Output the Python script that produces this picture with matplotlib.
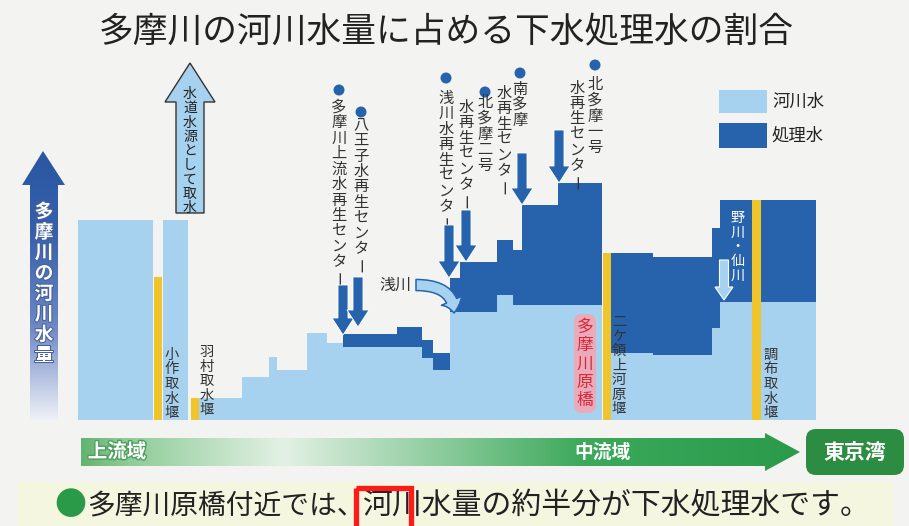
import numpy as np
import matplotlib.pyplot as plt
import matplotlib.patheffects as pe
from matplotlib.colors import LinearSegmentedColormap
from matplotlib.font_manager import FontProperties
from matplotlib.patches import (Circle, FancyArrow, FancyArrowPatch,
                                FancyBboxPatch, Polygon, Rectangle)
from matplotlib.textpath import TextPath
from matplotlib.transforms import ScaledTranslation

plt.rcParams['font.family'] = ['Noto Sans CJK JP', 'DejaVu Sans']

LIGHT = '#a6d1ef'
DARK = '#2763ad'
YELLOW = '#f0c52c'
BG = '#f3f3f1'

# river profile, upstream -> downstream (distance along the river, flow in common units)
seg_start = [78, 163, 199, 242, 269, 277, 307, 327, 343, 397, 422, 433,
             450, 460, 497, 513, 522, 558, 611, 653, 712, 720, 761]
seg_end = [153, 188, 242, 269, 277, 307, 327, 343, 397, 422, 433, 450,
           460, 497, 513, 522, 558, 602, 653, 712, 720, 752, 816]
river_water = [200, 200, 22, 43, 63, 50, 87, 77, 73, 73, 62, 50,
               108, 108, 125, 115, 115, 115, 67, 65, 92, 118, 118]
treated_water = [0, 0, 0, 0, 0, 0, 0, 0, 13, 20, 18, 17,
                 34, 50, 55, 55, 100, 122, 100, 98, 100, 102, 102]

# weirs
weir_names = ['小作取水堰', '羽村取水堰', '二ケ領上河原堰', '調布取水堰']
weir_x = [154, 191, 603, 752]
weir_width = [8, 8, 8, 9]
weir_height = [143, 22, 167, 220]

# water reclamation centers (label columns read right to left)
plant_cols = [['多摩川上流水再生センター'],
              ['八王子水再生センター'],
              ['浅川水再生センター'],
              ['北多摩二号', '水再生センター'],
              ['南多摩', '水再生センター'],
              ['北多摩一号', '水再生センター']]

fig = plt.figure(figsize=(9.09, 5.26), dpi=100)
fig.patch.set_facecolor(BG)

# flow chart: one unit = one pixel, baseline at row 420
ax = fig.add_axes([0, 0, 1, 1])
ax.set_xlim(0, 909)
ax.set_ylim(-106, 420)
ax.axis('off')

widths = [e - s for s, e in zip(seg_start, seg_end)]
ax.bar(seg_start, river_water, width=widths, align='edge', color=LIGHT, linewidth=0)
ax.bar(seg_start, treated_water, width=widths, bottom=river_water, align='edge',
       color=DARK, linewidth=0)
ax.bar(weir_x, weir_height, width=weir_width, align='edge', color=YELLOW, linewidth=0)

# overlay for labels and arrows, pixel rows from the top
ov = fig.add_axes([0, 0, 1, 1])
ov.set_xlim(0, 909)
ov.set_ylim(526, 0)
ov.axis('off')

JP = FontProperties(family='Noto Sans CJK JP')


def vtext(x, y, s, step, fontsize, **kw):
    # vertical writing: one glyph per row, long vowel mark turned upright
    for i, ch in enumerate(s):
        if ch == 'ー':
            ext = TextPath((0, 0), ch, size=fontsize, prop=JP).get_extents()
            cy = (ext.y0 + ext.y1) / 2
            tr = ov.transData + ScaledTranslation(cy / 72, 0, fig.dpi_scale_trans)
            ov.text(x, y + i * step, ch, ha='center', va='baseline', rotation=90,
                    rotation_mode='anchor', transform=tr, fontsize=fontsize, **kw)
        else:
            ov.text(x, y + i * step, ch, ha='center', va='center', fontsize=fontsize, **kw)


def gradient_patch(verts, stops, extent, horizontal):
    poly = Polygon(verts, closed=True, fc='none', ec='none')
    ov.add_patch(poly)
    cmap = LinearSegmentedColormap.from_list('grad', stops)
    g = np.linspace(0, 1, 256)
    img = g[np.newaxis, :] if horizontal else g[:, np.newaxis]
    im = ov.imshow(img, cmap=cmap, extent=extent, aspect='auto', origin='upper', zorder=2)
    im.set_clip_path(poly)


ov.text(446, 33, '多摩川の河川水量に占める下水処理水の割合', ha='center', va='center',
        fontsize=25, color='#222222')

# vertical axis arrow
gradient_patch([(43, 151), (22, 185), (30, 185), (30, 420), (58, 420), (58, 185), (65, 185)],
               [(0, '#2a57a2'), (0.3, '#3760ab'), (0.65, '#6d87c5'), (1, '#eef0f7')],
               (22, 65, 420, 151), horizontal=False)
vtext(44, 212, '多摩川の河川水量', 20.5, 13.5, color='white', weight='bold',
      path_effects=[pe.withStroke(linewidth=1.5, foreground='#46619c')])

# intake arrow
ov.add_patch(FancyArrow(190, 213, 0, -150, width=28, head_width=50, head_length=39,
                        length_includes_head=True, fc=LIGHT, ec='#333333', lw=1))
vtext(190, 94, '水道水源として取水', 14.3, 10, color='#222222')

# weir labels
weir_label_x = [172, 207, 619, 771]
weir_label_y = [355, 352, 322, 355]
for name, lx, ly in zip(weir_names, weir_label_x, weir_label_y):
    vtext(lx, ly, name, 14.5, 10.3, color='#333333')

# reclamation centers: dot, label columns, outfall arrow
dot_x = [339, 361, 446, 485, 520, 595]
dot_y = [90, 112, 78, 92, 73, 65]
col_x = [[339], [361], [446], [485, 466], [520, 504], [595, 577]]
col_y = [[107], [125], [98], [103, 107], [89, 93], [85, 88]]
outfall_x = [343, 358, 449, 466, 522, 559]
outfall_top = [285, 277, 225, 210, 153, 130]
outfall_tip = [335, 327, 278, 262, 205, 183]
for i, cols in enumerate(plant_cols):
    ov.add_patch(Circle((dot_x[i], dot_y[i]), 5.5, fc=DARK, ec='none'))
    for s, cx, cy in zip(cols, col_x[i], col_y[i]):
        vtext(cx, cy, s, 15.5, 11, color='#333333')
    ov.add_patch(FancyArrow(outfall_x[i], outfall_top[i], 0, outfall_tip[i] - outfall_top[i],
                            width=10, head_width=22, head_length=17, length_includes_head=True,
                            fc=DARK, ec='white', lw=0.6, zorder=3))

# tributaries
ov.text(395, 285, '浅川', ha='center', va='center', fontsize=11.5, color='#333333')
ov.add_patch(FancyArrowPatch((416, 285), (454, 313), connectionstyle='angle3,angleA=0,angleB=90',
                             arrowstyle='simple,head_length=0.9,head_width=1.6,tail_width=0.8',
                             mutation_scale=10, shrinkA=0, shrinkB=0,
                             fc=LIGHT, ec=DARK, lw=1.1, zorder=3))
vtext(738, 218, '野川・仙川', 14.5, 10.2, color='white')
ov.add_patch(FancyArrow(724, 260, 0, 40, width=9, head_width=18, head_length=13,
                        length_includes_head=True, fc=LIGHT, ec='white', lw=0.8, zorder=3))

# bridge marker
ov.add_patch(FancyBboxPatch((574, 314), 22, 99, boxstyle='round,pad=0,rounding_size=8',
                            fc='#f1a7b4', ec='none', alpha=0.9, zorder=2))
vtext(585, 327, '多摩川原橋', 18.5, 12, color='#d8283a', zorder=3)

# legend
ov.add_patch(Rectangle((719, 90), 48, 23, fc=LIGHT, ec='none'))
ov.add_patch(Rectangle((719, 123), 48, 25, fc=DARK, ec='none'))
ov.text(772, 102, '河川水', ha='left', va='center', fontsize=12.5, color='#222222')
ov.text(772, 136, '処理水', ha='left', va='center', fontsize=12.5, color='#222222')

# upstream -> downstream band
gradient_patch([(81, 438), (765, 438), (765, 433), (800, 452), (765, 471), (765, 466), (81, 466)],
               [(0, '#63b472'), (0.06, '#8ccb96'), (0.28, '#e3f1e4'), (0.7, '#3ca95b'), (1, '#2b9a4b')],
               (81, 800, 471, 433), horizontal=True)
ov.text(117, 452, '上流域', ha='center', va='center', fontsize=14, color='white', weight='bold',
        path_effects=[pe.withStroke(linewidth=2, foreground='#4f9e5e')])
ov.text(603, 452, '中流域', ha='center', va='center', fontsize=13.5, color='white', weight='bold')
ov.add_patch(FancyBboxPatch((806, 429), 98, 46, boxstyle='round,pad=0,rounding_size=10',
                            fc='#2b8c42', ec='none', zorder=2))
ov.text(855, 452, '東京湾', ha='center', va='center', fontsize=15, color='white', weight='bold',
        zorder=3)

# footnote
ov.add_patch(Rectangle((18, 482), 875, 50, fc='#f5f6df', ec='none', zorder=1))
ov.text(70, 506, '●', ha='center', va='center', fontsize=23, color='#2b9a48', zorder=3)
ov.text(87, 506, '多摩川原橋付近では、', ha='left', va='center',
        fontsize=20, color='#222222', zorder=3)
ov.text(362, 506, '河川水量の約半分が下水処理水です。', ha='left', va='center',
        fontsize=21.5, color='#222222', zorder=3)
ov.add_patch(Rectangle((356, 488), 55, 45, fill=False, ec='#ff1a1a', lw=3.8, zorder=4))

ov.set_xlim(0, 909)
ov.set_ylim(526, 0)
fig.savefig('out.png', dpi=100, facecolor=fig.get_facecolor())
